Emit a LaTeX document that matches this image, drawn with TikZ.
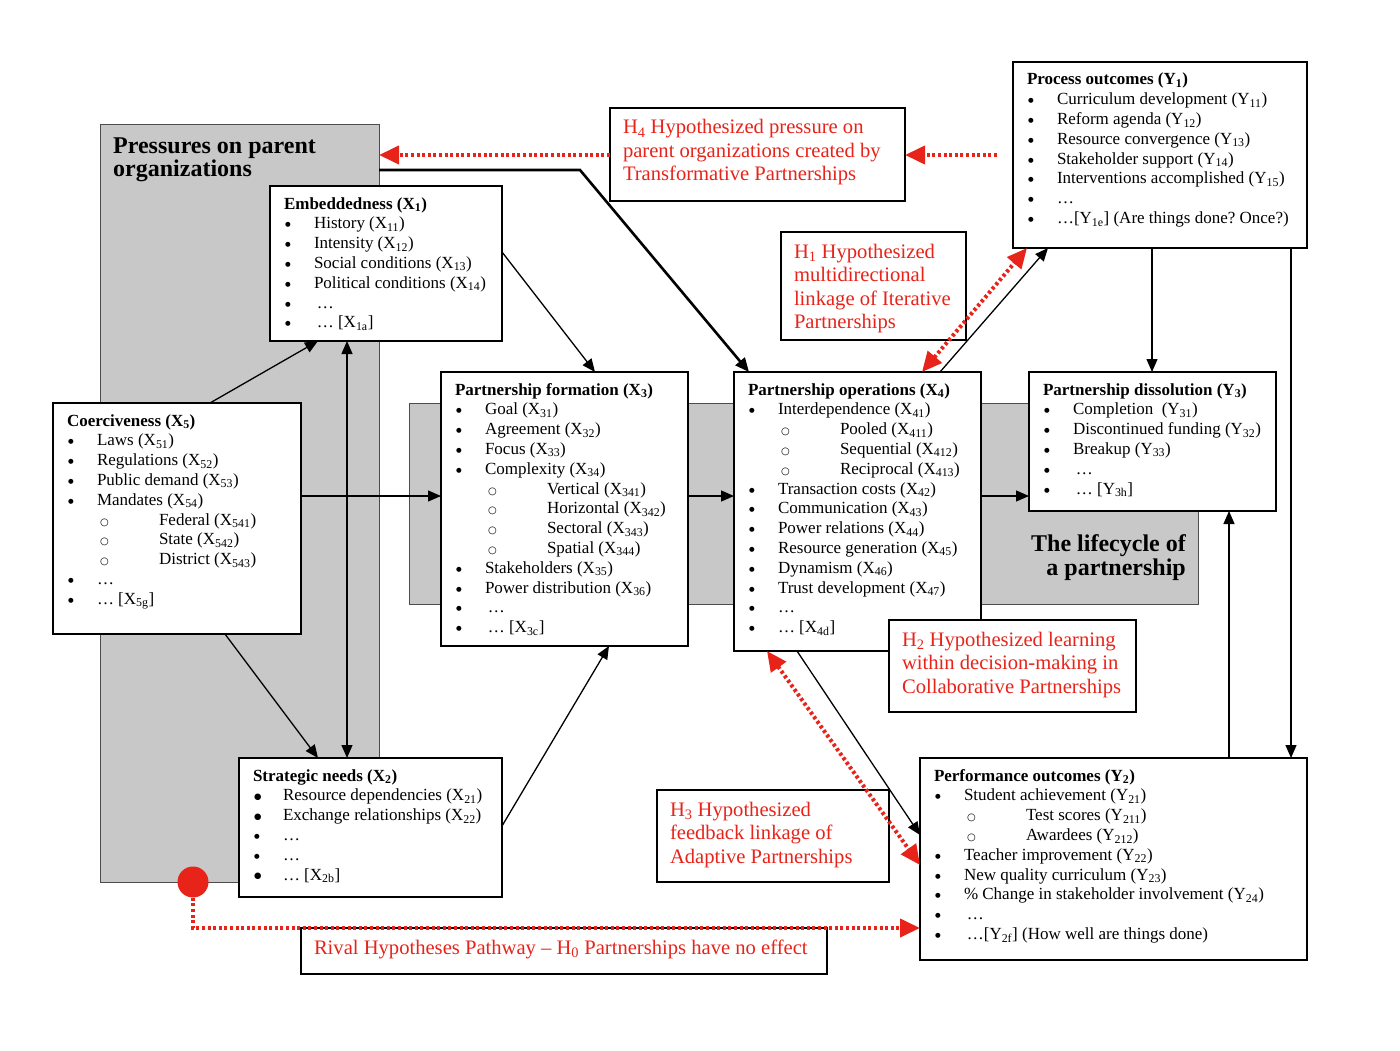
\documentclass[tikz,border=0pt]{standalone}
\usepackage{fontspec}
\setmainfont{Liberation Serif}
\newfontfamily\symf{DejaVu Sans}
\usetikzlibrary{arrows.meta}
\definecolor{hred}{RGB}{232,35,25}
\definecolor{pgray}{RGB}{200,200,200}
\frenchspacing

\newcommand{\ttl}[1]{\par\noindent\hspace*{14pt}\rule{0pt}{23pt}\textbf{#1}}
\newcommand{\bsym}{\raisebox{2pt}{\symf\fontsize{6.5}{6.5}\selectfont ●}}
\newcommand{\bbsym}{\raisebox{1.4pt}{\symf\fontsize{8.5}{8.5}\selectfont ●}}
\newcommand{\bul}[1]{\par\noindent\hspace*{15pt}\makebox[29pt][l]{\bsym}#1}
\newcommand{\bbul}[1]{\par\noindent\hspace*{15pt}\makebox[29pt][l]{\bbsym}#1}
\newcommand{\sbul}[1]{\par\noindent\hspace*{47pt}\makebox[59pt][l]{{\symf\fontsize{10}{10}\selectfont ○}}#1}
\newcommand{\X}[1]{X\textsubscript{#1}}
\newcommand{\Y}[1]{Y\textsubscript{#1}}
\newcommand{\cont}[3]{\parbox[c][#2pt][t]{#1pt}{\fontsize{17}{19.8}\selectfont\parskip=0pt #3}}
\newcommand{\hcont}[3]{\parbox[c][#2pt][t]{#1pt}{\color{hred}\fontsize{20.6}{23.5}\selectfont\parskip=0pt\raggedright\leftskip=13pt\noindent\rule{0pt}{26pt}#3}}

\tikzset{
  bx/.style={draw=black, line width=1.2pt, fill=white, inner sep=0pt, outer sep=0pt, anchor=north west},
  grayarea/.style={draw=black!70, line width=0.8pt, fill=pgray, inner sep=0pt, outer sep=0pt, anchor=north west},
  conn/.style={line width=1.3pt, -{Triangle[length=13pt,width=11pt]}},
  dconn/.style={line width=1.3pt, {Triangle[length=13pt,width=11pt]}-{Triangle[length=13pt,width=11pt]}},
  thickconn/.style={line width=2.6pt, -{Triangle[length=14pt,width=12pt]}},
  rdot/.style={draw=hred, line width=4pt, dash pattern=on 3pt off 2.6pt},
  rarr/.style={rdot, -{Triangle[length=20pt,width=18pt]}},
  rdarr/.style={rdot, {Triangle[length=20pt,width=18pt]}-{Triangle[length=20pt,width=18pt]}},
}

\begin{document}
\begin{tikzpicture}[x=1pt,y=-1pt]
\useasboundingbox[fill=white] (0,0) rectangle (1400,1051);

% gray areas
\node[grayarea, minimum width=279pt, minimum height=758pt] (press) at (100,124) {};
\node[grayarea, minimum width=789pt, minimum height=201pt] (life) at (409,403) {};
\node[anchor=base west, inner sep=0] (ptitle) at (113,154)
  {\parbox[t]{260pt}{\fontsize{24}{23}\selectfont\bfseries Pressures on parent\\organizations}};
\node[anchor=base east, inner sep=0] (ltitle) at (1186,551)
  {\parbox[t]{220pt}{\raggedleft\fontsize{24}{24}\selectfont\bfseries The lifecycle of\\a partnership}};

% boxes
\node[bx] (emb) at (270,186) {\cont{232}{155}{%
\ttl{Embeddedness (\X{1})}
\bul{History (\X{11})}
\bul{Intensity (\X{12})}
\bul{Social conditions (\X{13})}
\bul{Political conditions (\X{14})}
\bul{\,…}
\bul{\,… [\X{1a}]}}};

\node[bx] (coe) at (53,403) {\cont{248}{231}{%
\ttl{Coerciveness (\X{5})}
\bul{Laws (\X{51})}
\bul{Regulations (\X{52})}
\bul{Public demand (\X{53})}
\bul{Mandates (\X{54})}
\sbul{Federal (\X{541})}
\sbul{State (\X{542})}
\sbul{District (\X{543})}
\bul{…}
\bul{… [\X{5g}]}}};

\node[bx] (str) at (239,758) {\cont{263}{139}{%
\ttl{Strategic needs (\X{2})}
\bbul{Resource dependencies (\X{21})}
\bbul{Exchange relationships (\X{22})}
\bul{…}
\bul{…}
\bbul{… [\X{2b}]}}};

\node[bx] (form) at (441,372) {\cont{247}{274}{%
\ttl{Partnership formation (\X{3})}
\bul{Goal (\X{31})}
\bul{Agreement (\X{32})}
\bul{Focus (\X{33})}
\bul{Complexity (\X{34})}
\sbul{Vertical (\X{341})}
\sbul{Horizontal (\X{342})}
\sbul{Sectoral (\X{343})}
\sbul{Spatial (\X{344})}
\bul{Stakeholders (\X{35})}
\bul{Power distribution (\X{36})}
\bul{\,…}
\bul{\,… [\X{3c}]}}};

\node[bx] (ops) at (734,372) {\cont{247}{279}{%
\ttl{Partnership operations (\X{4})}
\bul{Interdependence (\X{41})}
\sbul{Pooled (\X{411})}
\sbul{Sequential (\X{412})}
\sbul{Reciprocal (\X{413})}
\bul{Transaction costs (\X{42})}
\bul{Communication (\X{43})}
\bul{Power relations (\X{44})}
\bul{Resource generation (\X{45})}
\bul{Dynamism (\X{46})}
\bul{Trust development (\X{47})}
\bul{…}
\bul{… [\X{4d}]}}};

\node[bx] (proc) at (1013,62) {\cont{294}{186}{%
\ttl{Process outcomes (\Y{1})}
\bul{Curriculum development (\Y{11})}
\bul{Reform agenda (\Y{12})}
\bul{Resource convergence (\Y{13})}
\bul{Stakeholder support (\Y{14})}
\bul{Interventions accomplished (\Y{15})}
\bul{…}
\bul{…[\Y{1e}] (Are things done? Once?)}}};

\node[bx] (diss) at (1029,372) {\cont{247}{139}{%
\ttl{Partnership dissolution (\Y{3})}
\bul{Completion \ (\Y{31})}
\bul{Discontinued funding (\Y{32})}
\bul{Breakup (\Y{33})}
\bul{\,…}
\bul{\,… [\Y{3h}]}}};

\node[bx] (perf) at (920,758) {\cont{387}{202}{%
\ttl{Performance outcomes (\Y{2})}
\bul{Student achievement (\Y{21})}
\sbul{Test scores (\Y{211})}
\sbul{Awardees (\Y{212})}
\bul{Teacher improvement (\Y{22})}
\bul{New quality curriculum (\Y{23})}
\bul{\% Change in stakeholder involvement (\Y{24})}
\bul{\,…}
\bul{\,…[\Y{2f}] (How well are things done)}}};

% hypothesis boxes
\node[bx] (h4) at (610,108) {\hcont{295}{93}{H\textsubscript{4} Hypothesized pressure on\\parent organizations created by\\Transformative Partnerships}};
\node[bx] (h1) at (781,232) {\hcont{185}{108}{H\textsubscript{1} Hypothesized\\multidirectional\\linkage of Iterative\\Partnerships}};
\node[bx] (h3) at (657,790) {\hcont{232}{92}{H\textsubscript{3} Hypothesized\\feedback linkage of\\Adaptive Partnerships}};
\node[bx] (rival) at (301,928) {\hcont{526}{46}{Rival Hypotheses Pathway – H\textsubscript{0} Partnerships have no effect}};

% black connectors
\coordinate (bend) at (580,170);
\draw[thickconn, line join=miter] ([yshift=-46]press.north east) -- (bend) -- ([xshift=15]ops.north west);
\draw[conn] ([yshift=-66]emb.north east) -- ([xshift=154]form.north west);
\draw[conn] ([xshift=157]coe.north west) -- ([xshift=48]emb.south west);
\draw[dconn] ([xshift=77]emb.south west) -- ([xshift=108]str.north west);
\draw[conn] ([xshift=172]coe.south west) -- ([xshift=79]str.north west);
\draw[conn] ([yshift=-93]coe.north east) -- ([yshift=-124]form.north west);
\draw[conn] ([yshift=-68]str.north east) -- ([xshift=168]form.south west);
\draw[conn] ([yshift=-124]form.north east) -- ([yshift=-124]ops.north west);
\draw[conn] ([yshift=-124]ops.north east) -- ([yshift=-124]diss.north west);
\draw[conn] ([xshift=206]ops.north west) -- ([xshift=35]proc.south west);
\draw[conn] ([xshift=139]proc.south west) -- ([xshift=123]diss.north west);
\draw[conn] ([xshift=-16]proc.south east) -- ([xshift=-16]perf.north east);
\draw[conn] ([xshift=309]perf.north west) -- ([xshift=200]diss.south west);
\draw[conn] ([xshift=63]ops.south west) -- ([yshift=-77]perf.north west);

% H2 box drawn over operations box
\node[bx] (h2) at (889,620) {\hcont{247}{92}{H\textsubscript{2} Hypothesized learning\\within decision-making in\\Collaborative Partnerships}};

% red connectors
\draw[rdarr] ([xshift=188]ops.north west) -- ([xshift=14]proc.south west);
\draw[rdarr] ([xshift=33]ops.south west) -- ([yshift=-107]perf.north west);
\coordinate (h4src) at ([xshift=-16,yshift=-93]proc.north west);
\draw[rarr] (h4src) -- ([yshift=-47]h4.north east);
\draw[rarr] ([yshift=-47]h4.north west) -- ([yshift=-31]press.north east);
\node[circle, fill=hred, minimum size=31pt, inner sep=0pt] (rdotn) at (193,882) {};
\draw[rarr] (rdotn.south) |- ([yshift=-170]perf.north west);
\end{tikzpicture}
\end{document}
